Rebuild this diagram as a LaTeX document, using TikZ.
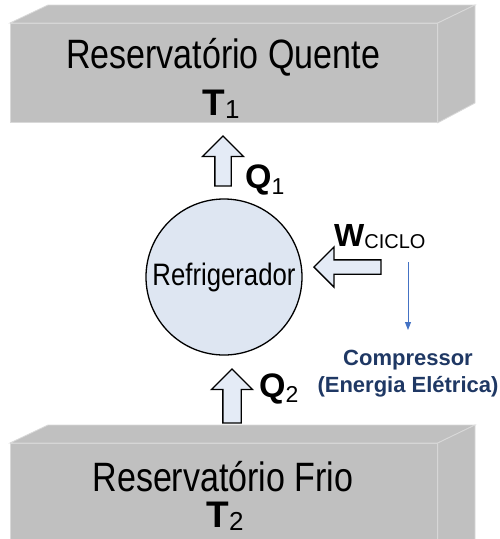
\documentclass[tikz,border=0pt]{standalone}
\usepackage{fontspec}
\setmainfont{Liberation Sans}
\newfontfamily\condensedsans[FakeStretch=0.83]{Liberation Sans}
\usetikzlibrary{shapes.arrows,arrows.meta,positioning}

\definecolor{resgray}{HTML}{C0C0C0}
\definecolor{resedge}{HTML}{D9D9D9}
\definecolor{cyclefill}{HTML}{DEE6F2}
\definecolor{arrowfill}{HTML}{E4EBF6}
\definecolor{compblue}{HTML}{4472C4}
\definecolor{compnavy}{HTML}{1F3864}

\begin{document}
\begin{tikzpicture}[
    x=1pt, y=-1pt,
    reservoir/.style={rectangle, fill=resgray, draw=resedge, line width=0.8pt, minimum width=427pt, minimum height=99pt, inner sep=0pt, anchor=north west},
    face/.style={fill=resgray, draw=resedge, line width=0.8pt},
    restext/.style={anchor=base, inner sep=0pt, font=\condensedsans\fontsize{41}{41}\selectfont},
    flowarrow/.style={single arrow, draw=black, fill=arrowfill, line width=1.3pt, inner xsep=0pt, anchor=tip, single arrow tip angle=90},
    heatlabel/.style={anchor=base west, inner sep=0pt},
    comparrow/.style={-{Triangle[width=6pt,length=8pt]}, draw=compblue, line width=0.9pt}
]
    \clip (0,0) rectangle (499,539);

    % hot reservoir
    \node[reservoir] (hotres) at (10,23) {};
    \draw[face] (hotres.north west) -- (48,5) -- (475,5) -- (hotres.north east) -- cycle;
    \draw[face] (hotres.north east) -- (475,5) -- (475,103) -- (hotres.south east) -- cycle;
    \node[restext] (hotname) at (223,68) {Reservatório Quente};
    \node[anchor=base, inner sep=0pt] (hottemp) at (221,115) {{\bfseries\fontsize{37}{37}\selectfont T}\raisebox{-3pt}{\fontsize{26}{26}\selectfont 1}};

    % cold reservoir
    \node[reservoir, minimum height=110pt] (coldres) at (10,443) {};
    \draw[face] (coldres.north west) -- (48,425) -- (475,425) -- (coldres.north east) -- cycle;
    \draw[face] (coldres.north east) -- (475,425) -- (475,560) -- (coldres.south east) -- cycle;
    \node[restext] (coldname) at (223,491) {Reservatório Frio};
    \node[anchor=base, inner sep=0pt] (coldtemp) at (225,527) {{\bfseries\fontsize{37}{37}\selectfont T}\raisebox{-3pt}{\fontsize{26}{26}\selectfont 2}};

    % refrigerator
    \node[circle, minimum size=156pt, fill=cyclefill, draw=black, line width=1.3pt, inner sep=0pt,
          font=\condensedsans\fontsize{31}{31}\selectfont] (refrig) at (224,277) {Refrigerador};

    % heat and work flows
    \node[flowarrow, rotate=90, minimum height=50pt, minimum width=40pt, inner ysep=7.5pt, single arrow head extend=12.5pt] (q1arrow) at (223,135) {};
    \node[flowarrow, rotate=90, minimum height=54pt, minimum width=40pt, inner ysep=8.5pt, single arrow head extend=11.5pt] (q2arrow) at (232,368) {};
    \node[flowarrow, rotate=180, minimum height=67pt, minimum width=39pt, inner ysep=6.5pt, single arrow head extend=13pt] (warrow) at (313,267) {};

    \node[heatlabel] (q1label) at (245,188) {{\bfseries\fontsize{34}{34}\selectfont Q}\raisebox{-6pt}{\fontsize{23}{23}\selectfont 1}};
    \node[heatlabel] (q2label) at (259,397) {{\bfseries\fontsize{34}{34}\selectfont Q}\raisebox{-5pt}{\fontsize{23}{23}\selectfont 2}};
    \node[heatlabel] (wlabel) at (334,246) {{\bfseries\fontsize{32}{32}\selectfont W}\raisebox{-2pt}{\fontsize{20}{20}\selectfont CICLO}};

    % compressor note
    \node[anchor=north, align=center, inner sep=0pt, text=compnavy,
          font=\bfseries\fontsize{22}{27}\selectfont] (comptext) at (408,350) {Compressor\\(Energia Elétrica)};
    \coordinate (wtap) at (408,262);
    \draw[comparrow, shorten >=20pt] (wtap) -- (comptext.north);
\end{tikzpicture}
\end{document}
